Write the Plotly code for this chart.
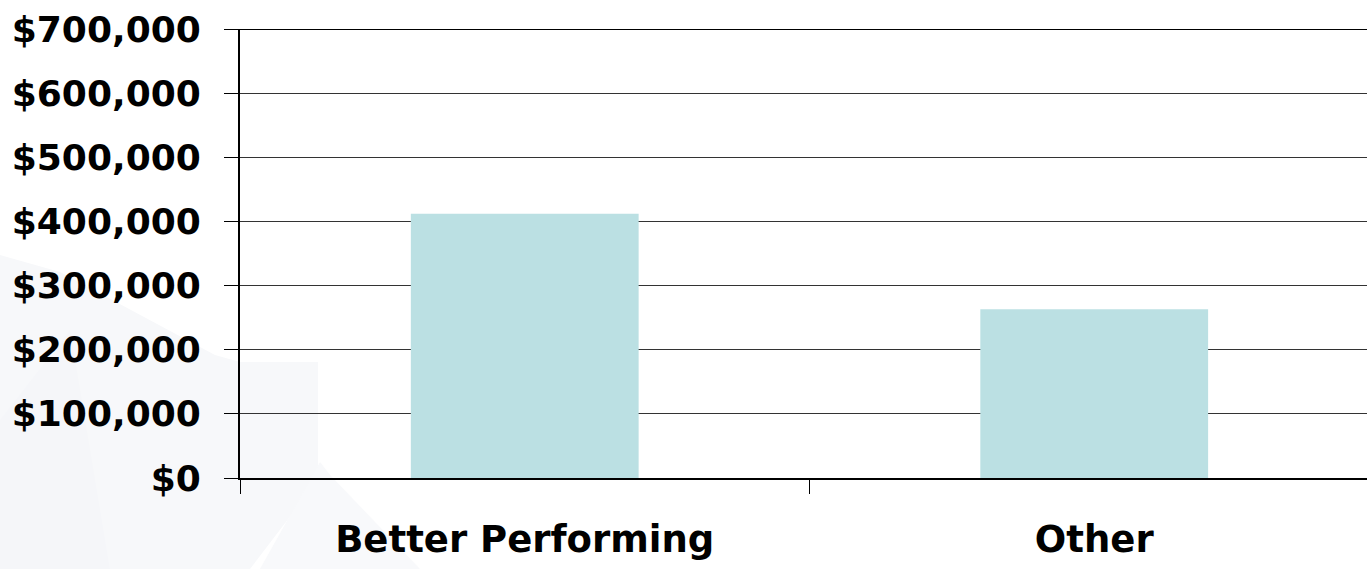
import plotly.graph_objects as go

categories = ["Better Performing", "Other"]
values = [412000, 263000]
tick_vals = [0, 100000, 200000, 300000, 400000, 500000, 600000, 700000]
tick_text = ["$0", "$100,000", "$200,000", "$300,000", "$400,000", "$500,000", "$600,000", "$700,000"]

W, H = 1367, 569
L, T, B = 240, 29, 91
PW, PH = W - L, H - T - B


def px(x, y):
    return (x - L) / PW, (H - B - y) / PH


def poly(pts):
    coords = [px(x, y) for x, y in pts]
    return "M " + " L ".join(f"{a:.4f},{b:.4f}" for a, b in coords) + " Z"


fig = go.Figure()
fig.add_trace(go.Bar(x=categories, y=values, marker=dict(color="#BBE0E3", line=dict(width=0)), width=0.4))

yf = dict(family="DejaVu Sans, Arial, sans-serif", size=36, color="black", weight="bold")
xf = dict(family="DejaVu Sans, Arial, sans-serif", size=37, color="black", weight="bold")

fig.update_layout(
    width=W, height=H,
    margin=dict(l=L, r=0, t=T, b=B),
    paper_bgcolor="white", plot_bgcolor="rgba(0,0,0,0)",
    showlegend=False,
    xaxis=dict(
        showgrid=False, showline=True, linecolor="black", linewidth=2,
        ticks="outside", ticklen=14, tickcolor="black", tickwidth=1,
        tickson="boundaries",
        tickfont=xf,
        ticklabelstandoff=28,
        range=[-0.5, 1.479],
    ),
    yaxis=dict(
        range=[0, 700000], tickvals=tick_vals, ticktext=tick_text,
        showgrid=True, gridcolor="#333333", gridwidth=1,
        showline=True, linecolor="black", linewidth=2,
        ticks="outside", ticklen=14, tickcolor="black", tickwidth=1,
        tickfont=yf,
        ticklabelstandoff=16,
        zeroline=False,
    ),
)

# very faint watermark shapes
fig.add_shape(type="path", xref="paper", yref="paper", layer="below",
              path=poly([(0, 255), (60, 272), (215, 355), (240, 362), (318, 362), (318, 480),
                         (250, 569), (0, 569)]),
              fillcolor="#f7f8fa", line=dict(width=0))
fig.add_shape(type="path", xref="paper", yref="paper", layer="below",
              path=poly([(0, 420), (70, 330), (110, 569), (0, 569)]),
              fillcolor="#f5f6f9", line=dict(width=0))
fig.add_shape(type="path", xref="paper", yref="paper", layer="below",
              path=poly([(320, 462), (330, 475), (420, 569), (260, 569)]),
              fillcolor="#f8f9fb", line=dict(width=0))

fig.add_shape(type="line", xref="paper", yref="y", x0=0, x1=1, y0=700000, y1=700000,
              line=dict(color="black", width=2))
fig.write_html("out.html")
